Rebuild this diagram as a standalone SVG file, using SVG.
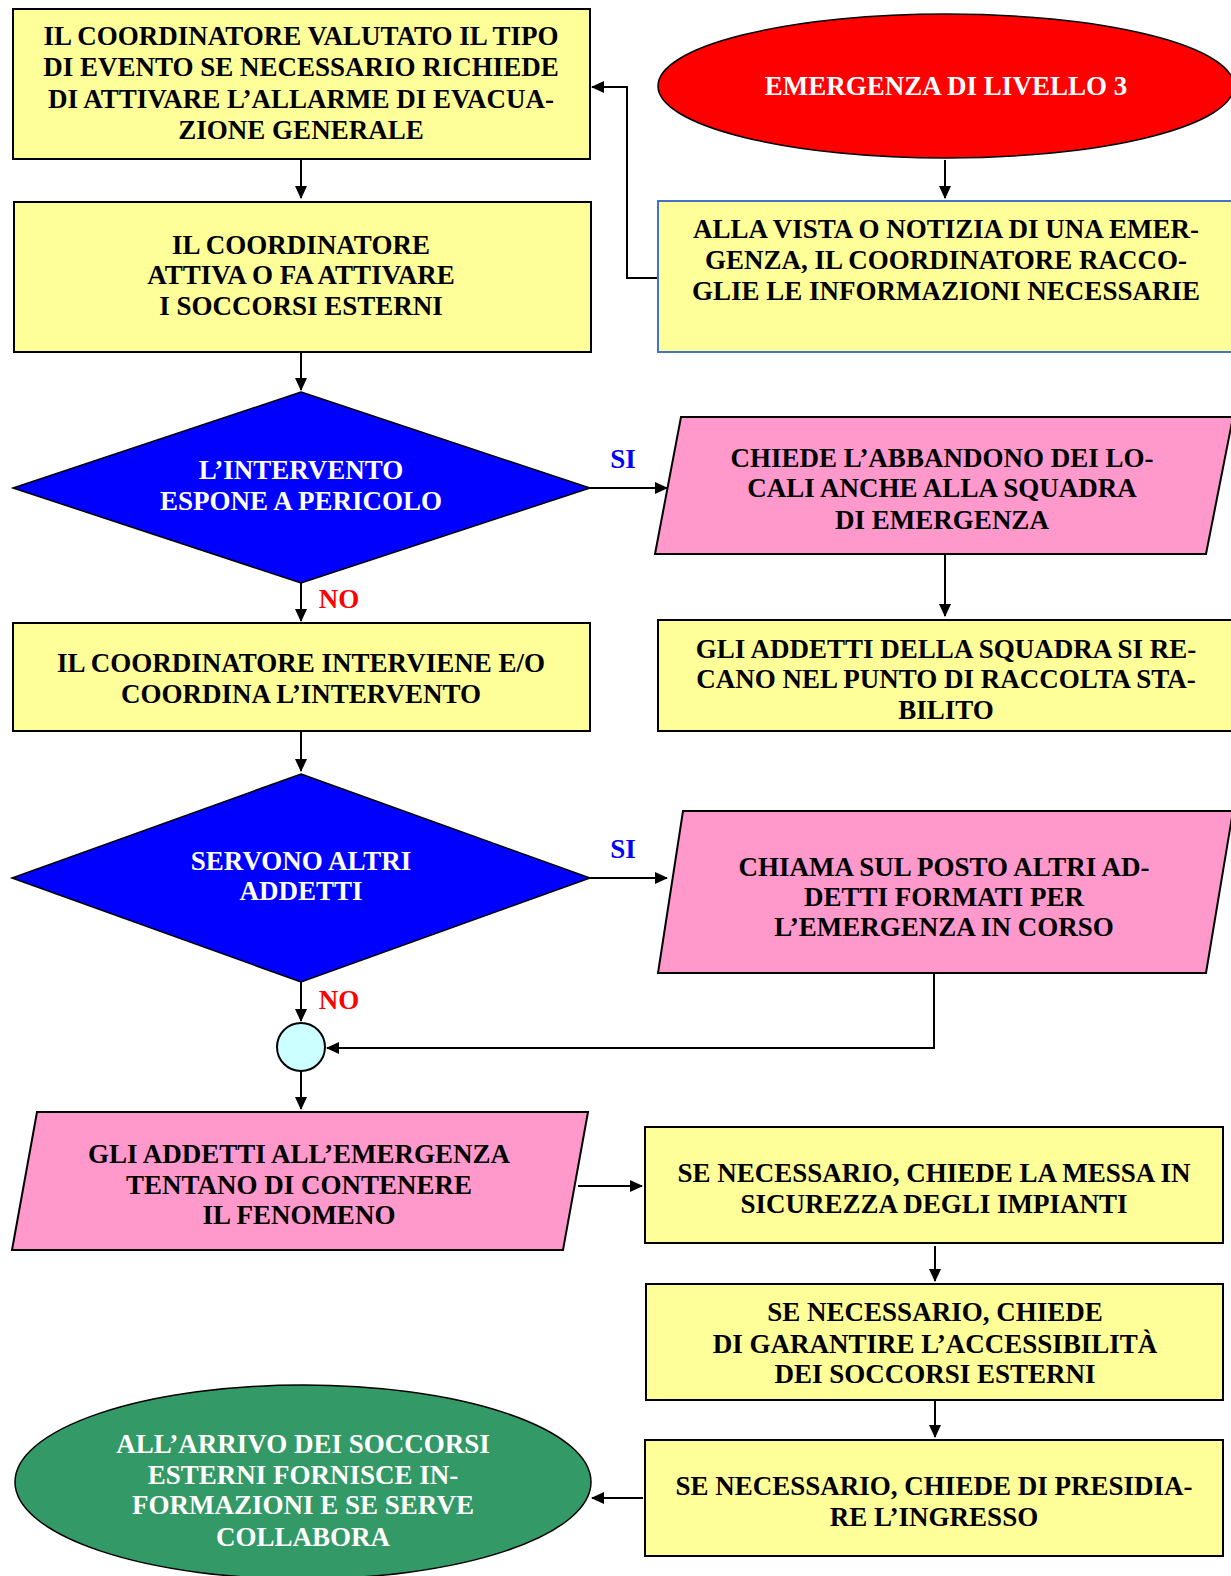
<svg xmlns="http://www.w3.org/2000/svg" width="1231" height="1576" viewBox="0 0 1231 1576">
<style>
.t{font-family:"Liberation Serif","Times New Roman",serif;font-weight:bold;font-size:27px;text-anchor:middle}
.k{fill:#000}
.w{fill:#fff}
.box{fill:#FFFF99;stroke:#000;stroke-width:2}
.pink{fill:#FF99CC;stroke:#000;stroke-width:2}
.dia{fill:#0000FF;stroke:#000;stroke-width:1.5}
.c{fill:none;stroke:#000;stroke-width:2;marker-end:url(#ah)}
</style>
<defs>
<marker id="ah" markerWidth="13" markerHeight="12" refX="12" refY="6" orient="auto" markerUnits="userSpaceOnUse">
<path d="M0,0 L13,6 L0,12 z" fill="#000"/>
</marker>
</defs>
<rect width="1231" height="1576" fill="#fff"/>

<g id="connectors">
<path class="c" d="M301,160 V198"/>
<path class="c" d="M945,160 V198"/>
<path class="c" d="M658,278 H627 V87 H592"/>
<path class="c" d="M301,352 V390"/>
<path class="c" d="M590,488 H667"/>
<path class="c" d="M945,554 V616"/>
<path class="c" d="M301,583 V621"/>
<path class="c" d="M301,731 V771"/>
<path class="c" d="M590,878 H667"/>
<path class="c" d="M301,982 V1021"/>
<path class="c" d="M934,973 V1048 H327"/>
<path class="c" d="M301,1071 V1109"/>
<path class="c" d="M578,1186 H642"/>
<path class="c" d="M935,1246 V1281"/>
<path class="c" d="M935,1400 V1437"/>
<path class="c" d="M643,1498 H592"/>
</g>

<g id="n_valuta">
<rect class="box" x="13" y="9" width="577" height="150"/>
<text class="t k" x="301" y="45">IL COORDINATORE VALUTATO IL TIPO</text>
<text class="t k" x="301" y="76">DI EVENTO SE NECESSARIO RICHIEDE</text>
<text class="t k" x="301" y="108">DI ATTIVARE L’ALLARME DI EVACUA-</text>
<text class="t k" x="301" y="139">ZIONE GENERALE</text>
</g>

<g id="n_emergenza">
<ellipse cx="946" cy="86" rx="288" ry="72" fill="#FF0000" stroke="#000" stroke-width="1.5"/>
<text class="t w" x="946" y="95">EMERGENZA DI LIVELLO 3</text>
</g>

<g id="n_vista">
<rect x="658" y="201" width="575" height="151" fill="#FFFF99" stroke="#4472C4" stroke-width="2"/>
<text class="t k" x="946" y="238">ALLA VISTA O NOTIZIA DI UNA EMER-</text>
<text class="t k" x="946" y="269">GENZA, IL COORDINATORE RACCO-</text>
<text class="t k" x="946" y="300">GLIE LE INFORMAZIONI NECESSARIE</text>
</g>

<g id="n_attiva">
<rect class="box" x="14" y="202" width="577" height="150"/>
<text class="t k" x="301" y="254">IL COORDINATORE</text>
<text class="t k" x="301" y="284">ATTIVA O FA ATTIVARE</text>
<text class="t k" x="301" y="315">I SOCCORSI ESTERNI</text>
</g>

<g id="n_dec1">
<polygon class="dia" points="301,392 590,488 301,583 13,488"/>
<text class="t w" x="301" y="479">L’INTERVENTO</text>
<text class="t w" x="301" y="510">ESPONE A PERICOLO</text>
</g>
<text class="t" x="623" y="468" fill="#0000FF">SI</text>
<text class="t" x="339" y="608" fill="#FF0000">NO</text>

<g id="n_abbandono">
<polygon class="pink" points="681,417 1233,417 1206,554 655,554"/>
<text class="t k" x="942" y="467">CHIEDE L’ABBANDONO DEI LO-</text>
<text class="t k" x="942" y="497">CALI ANCHE ALLA SQUADRA</text>
<text class="t k" x="942" y="529">DI EMERGENZA</text>
</g>

<g id="n_raccolta">
<rect class="box" x="658" y="620" width="575" height="111"/>
<text class="t k" x="946" y="658">GLI ADDETTI DELLA SQUADRA SI RE-</text>
<text class="t k" x="946" y="688">CANO NEL PUNTO DI RACCOLTA STA-</text>
<text class="t k" x="946" y="719">BILITO</text>
</g>

<g id="n_interviene">
<rect class="box" x="13" y="623" width="577" height="108"/>
<text class="t k" x="301" y="672">IL COORDINATORE INTERVIENE E/O</text>
<text class="t k" x="301" y="703">COORDINA L’INTERVENTO</text>
</g>

<g id="n_dec2">
<polygon class="dia" points="301,774 590,878 301,982 12,878"/>
<text class="t w" x="301" y="870">SERVONO ALTRI</text>
<text class="t w" x="301" y="900">ADDETTI</text>
</g>
<text class="t" x="623" y="858" fill="#0000FF">SI</text>
<text class="t" x="339" y="1009" fill="#FF0000">NO</text>

<g id="n_chiama">
<polygon class="pink" points="683,811 1233,811 1206,973 658,973"/>
<text class="t k" x="944" y="876">CHIAMA SUL POSTO ALTRI AD-</text>
<text class="t k" x="944" y="906">DETTI FORMATI PER</text>
<text class="t k" x="944" y="936">L’EMERGENZA IN CORSO</text>
</g>

<g id="n_join">
<circle cx="301" cy="1047" r="24" fill="#CCFFFF" stroke="#000" stroke-width="2"/>
</g>

<g id="n_contenere">
<polygon class="pink" points="37,1112 588,1112 563,1250 12,1250"/>
<text class="t k" x="299" y="1163">GLI ADDETTI ALL’EMERGENZA</text>
<text class="t k" x="299" y="1194">TENTANO DI CONTENERE</text>
<text class="t k" x="299" y="1224">IL FENOMENO</text>
</g>

<g id="n_impianti">
<rect class="box" x="645" y="1127" width="578" height="116"/>
<text class="t k" x="934" y="1182">SE NECESSARIO, CHIEDE LA MESSA IN</text>
<text class="t k" x="934" y="1213">SICUREZZA DEGLI IMPIANTI</text>
</g>

<g id="n_accessibilita">
<rect class="box" x="646" y="1284" width="577" height="116"/>
<text class="t k" x="935" y="1321">SE NECESSARIO, CHIEDE</text>
<text class="t k" x="935" y="1353">DI GARANTIRE L’ACCESSIBILITÀ</text>
<text class="t k" x="935" y="1383">DEI SOCCORSI ESTERNI</text>
</g>

<g id="n_ingresso">
<rect class="box" x="645" y="1440" width="578" height="116"/>
<text class="t k" x="934" y="1495">SE NECESSARIO, CHIEDE DI PRESIDIA-</text>
<text class="t k" x="934" y="1526">RE L’INGRESSO</text>
</g>

<g id="n_arrivo">
<ellipse cx="303" cy="1482" rx="288" ry="97" fill="#339966" stroke="#000" stroke-width="1.5"/>
<text class="t w" x="303" y="1453">ALL’ARRIVO DEI SOCCORSI</text>
<text class="t w" x="303" y="1484">ESTERNI FORNISCE IN-</text>
<text class="t w" x="303" y="1514">FORMAZIONI E SE SERVE</text>
<text class="t w" x="303" y="1546">COLLABORA</text>
</g>
</svg>
